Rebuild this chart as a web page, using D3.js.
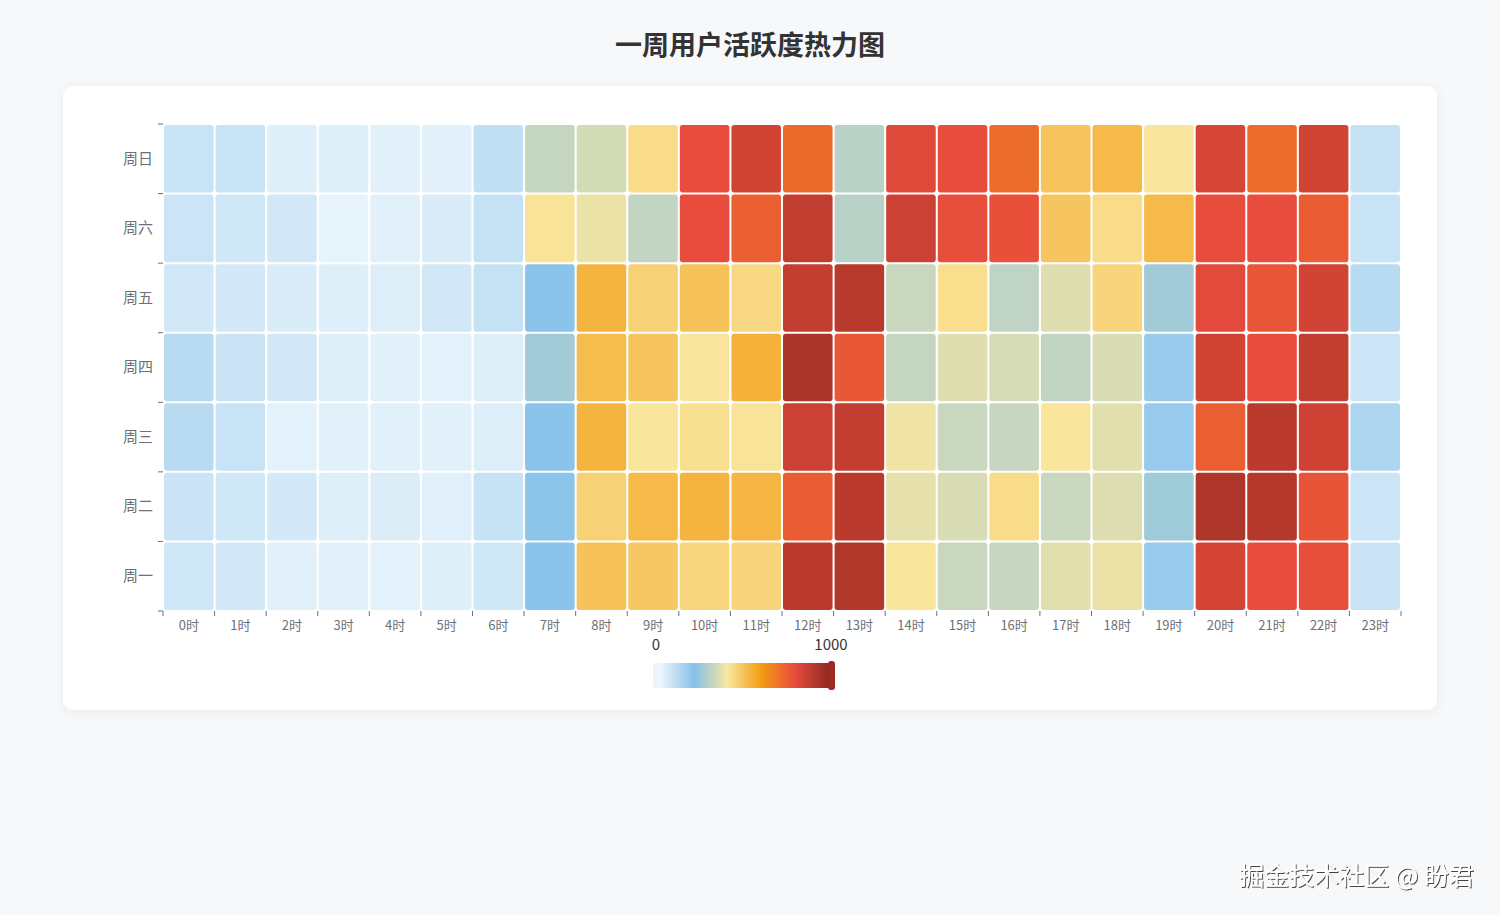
<!DOCTYPE html>
<html>
<head>
<meta charset="utf-8">
<script src="https://cdn.jsdelivr.net/npm/d3@7"></script>
<style>
  body { margin: 0; background: #f7f8fa; font-family: "Noto Sans CJK SC", "Noto Sans", sans-serif; }
  svg { display: block; }
</style>
</head>
<body>
<svg id="chart" width="1500" height="915"></svg>
<script>
const hours = ['0时', '1时', '2时', '3时', '4时', '5时', '6时', '7时', '8时', '9时', '10时', '11时',
  '12时', '13时', '14时', '15时', '16时', '17时', '18时', '19时', '20时', '21时', '22时', '23时'];
const days = ['周一', '周二', '周三', '周四', '周五', '周六', '周日'];

// activity per hour, one array per day
const mon = [55, 50, 20, 18, 16, 25, 55, 190, 500, 485, 445, 450, 905, 930, 405, 315, 312, 360, 375, 165, 845, 800, 795, 65];
const tue = [65, 55, 45, 28, 30, 22, 72, 185, 460, 520, 535, 530, 760, 905, 365, 345, 430, 315, 350, 245, 935, 920, 780, 60];
const wed = [100, 70, 15, 18, 20, 18, 28, 190, 535, 405, 420, 410, 865, 885, 385, 315, 312, 405, 360, 165, 755, 905, 860, 120];
const thu = [100, 65, 50, 25, 20, 15, 25, 250, 515, 495, 405, 545, 940, 770, 310, 355, 340, 305, 345, 160, 855, 800, 885, 60];
const fri = [50, 45, 35, 25, 28, 50, 75, 190, 535, 460, 500, 440, 885, 910, 315, 425, 300, 355, 450, 250, 810, 775, 855, 100];
const sat = [60, 55, 50, 8, 20, 35, 75, 410, 375, 305, 800, 750, 890, 290, 865, 795, 790, 490, 430, 520, 800, 800, 760, 70];
const sun = [70, 70, 25, 25, 20, 18, 80, 310, 335, 430, 800, 855, 725, 290, 820, 800, 720, 495, 520, 405, 840, 720, 855, 75];

const valueRange = [0, 1000];
const rampColors = ['#ebf5fb', '#85c1e9', '#f9e79f', '#f39c12', '#e74c3c', '#922b21'];

const rows = [mon, tue, wed, thu, fri, sat, sun];
const cells = [];
rows.forEach((row, d) => row.forEach((v, h) => cells.push({ day: days[d], hour: hours[h], value: v })));

const svg = d3.select('#chart');

// soft shadow for the card
const defs = svg.append('defs');
const shadow = defs.append('filter').attr('id', 'cardShadow')
  .attr('x', '-5%').attr('y', '-5%').attr('width', '110%').attr('height', '115%');
shadow.append('feDropShadow')
  .attr('dx', 0).attr('dy', 2).attr('stdDeviation', 6)
  .attr('flood-color', '#000').attr('flood-opacity', 0.06);

const wmShadow = defs.append('filter').attr('id', 'wmShadow');
wmShadow.append('feDropShadow')
  .attr('dx', 1).attr('dy', 1).attr('stdDeviation', 0.7)
  .attr('flood-color', '#333').attr('flood-opacity', 0.9);

svg.append('text')
  .text('一周用户活跃度热力图')
  .attr('x', 750)
  .attr('y', 55)
  .attr('text-anchor', 'middle')
  .attr('font-size', 27)
  .attr('font-weight', 'bold')
  .attr('fill', '#333');

svg.append('rect')
  .attr('x', 63).attr('y', 86)
  .attr('width', 1374).attr('height', 624)
  .attr('rx', 10)
  .attr('fill', '#fff')
  .attr('filter', 'url(#cardShadow)');

const gridLeft = 163;
const gridRight = 1401;
const gridTop = 124;
const gridBottom = 611;

const xScale = d3.scaleBand().domain(hours).range([gridLeft, gridRight]);
const yScale = d3.scaleBand().domain(days).range([gridBottom, gridTop]);

const color = d3.scaleLinear()
  .domain(d3.range(rampColors.length).map((i) => valueRange[0] + i * (valueRange[1] - valueRange[0]) / (rampColors.length - 1)))
  .range(rampColors)
  .clamp(true);

svg.append('g')
  .selectAll('rect')
  .data(cells)
  .enter()
  .append('rect')
  .attr('x', (d) => xScale(d.hour) + 1)
  .attr('y', (d) => yScale(d.day) + 1)
  .attr('width', xScale.bandwidth() - 2)
  .attr('height', yScale.bandwidth() - 2)
  .attr('rx', 3)
  .attr('fill', (d) => color(d.value));

// axes: ticks sit on the band boundaries
const xAxis = svg.append('g')
  .attr('transform', `translate(0, ${gridBottom})`)
  .call(d3.axisBottom(xScale).tickSize(0).tickPadding(10));
xAxis.select('.domain').remove();
xAxis.selectAll('text').attr('font-size', 13).attr('fill', '#6e7079')
  .attr('font-family', '"Noto Sans CJK SC", sans-serif');
xAxis.selectAll('.bound')
  .data(d3.range(hours.length + 1))
  .enter()
  .append('line')
  .attr('x1', (i) => gridLeft + i * xScale.step())
  .attr('x2', (i) => gridLeft + i * xScale.step())
  .attr('y1', 0).attr('y2', 5)
  .attr('stroke', '#6e7079');

const yAxis = svg.append('g')
  .attr('transform', `translate(${gridLeft}, 0)`)
  .call(d3.axisLeft(yScale).tickSize(0).tickPadding(10));
yAxis.select('.domain').remove();
yAxis.selectAll('text').attr('font-size', 15).attr('fill', '#6e7079')
  .attr('font-family', '"Noto Sans CJK SC", sans-serif');
yAxis.selectAll('.bound')
  .data(d3.range(days.length + 1))
  .enter()
  .append('line')
  .attr('x1', -5).attr('x2', 0)
  .attr('y1', (i) => gridTop + i * yScale.step())
  .attr('y2', (i) => gridTop + i * yScale.step())
  .attr('stroke', '#6e7079');

// continuous visual map
const vmLeft = 653;
const vmRight = 828;
const vmTop = 663;
const vmHeight = 25;
const vmScale = d3.scaleLinear().domain(valueRange).range([vmLeft + 8, vmRight]);

const grad = defs.append('linearGradient').attr('id', 'vmGrad');
grad.selectAll('stop')
  .data(rampColors)
  .enter()
  .append('stop')
  .attr('offset', (d, i) => `${(i / (rampColors.length - 1)) * 100}%`)
  .attr('stop-color', (d) => d);

const vm = svg.append('g');
vm.append('rect')
  .attr('x', vmLeft).attr('y', vmTop)
  .attr('width', 9).attr('height', vmHeight)
  .attr('rx', 2)
  .attr('fill', color(valueRange[0]));
vm.append('rect')
  .attr('x', vmScale(valueRange[0])).attr('y', vmTop)
  .attr('width', vmScale(valueRange[1]) - vmScale(valueRange[0])).attr('height', vmHeight)
  .attr('fill', 'url(#vmGrad)');
vm.append('rect')
  .attr('x', vmScale(valueRange[1])).attr('y', vmTop - 2)
  .attr('width', 7).attr('height', vmHeight + 4)
  .attr('rx', 3)
  .attr('fill', '#9b2a20');

vm.selectAll('text')
  .data(valueRange)
  .enter()
  .append('text')
  .text((d) => d)
  .attr('x', (d, i) => (i === 0 ? vmLeft + 3 : vmRight + 3))
  .attr('y', 650)
  .attr('text-anchor', 'middle')
  .attr('font-size', 15)
  .attr('fill', '#333');

svg.append('text')
  .text('掘金技术社区 @ 盼君')
  .attr('x', 1474)
  .attr('y', 885)
  .attr('text-anchor', 'end')
  .attr('font-size', 25)
  .attr('fill', '#fff')
  .attr('filter', 'url(#wmShadow)');
</script>
</body>
</html>
